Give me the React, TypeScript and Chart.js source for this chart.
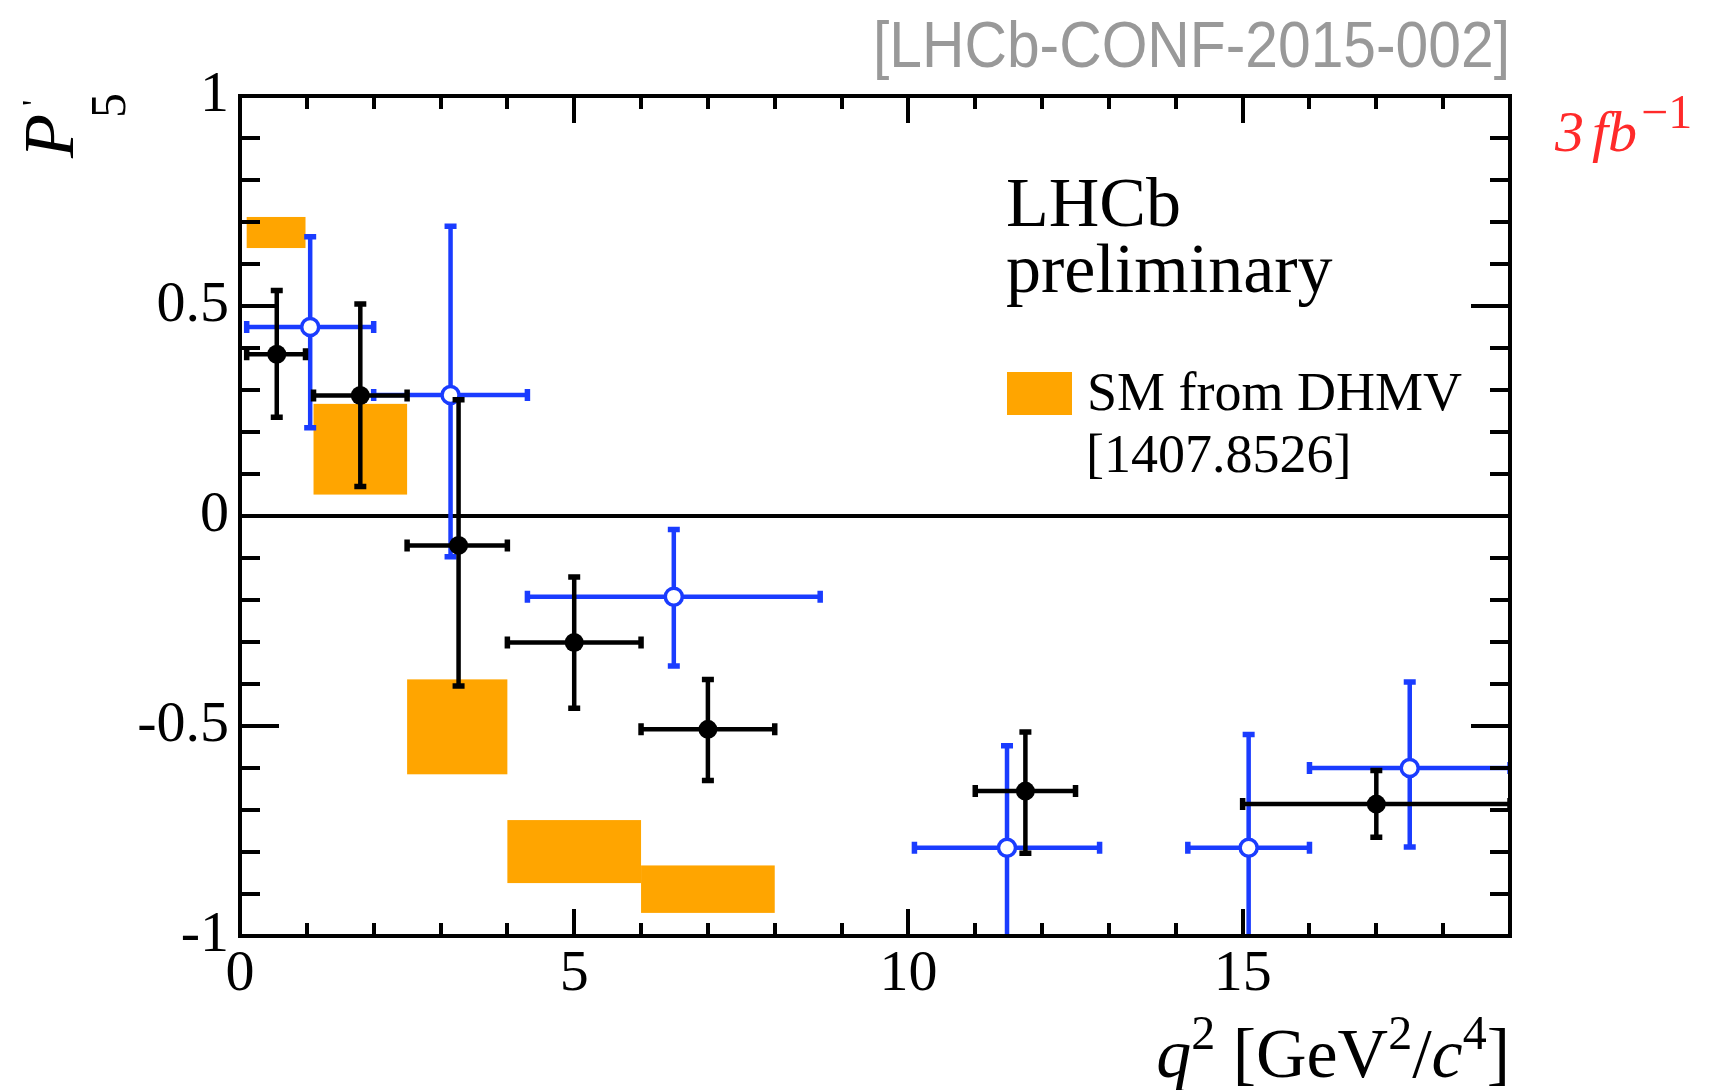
import React, { useEffect, useRef } from "react";
import { Chart, registerables } from "chart.js";

Chart.register(...registerables);

const SERIF = "'Liberation Serif', 'Times New Roman', serif";
const SANS = "'Liberation Sans', Arial, sans-serif";

const BLACK = "#000000";
const BLUE = "#1a3cff";
const ORANGE = "#ffa500";
const GREY = "#999999";
const RED = "#ff2a2a";

// axis ranges and tick structure
const xAxisMin = 0;
const xAxisMax = 19;
const yAxisMin = -1;
const yAxisMax = 1;
const xMajorTicks = [0, 5, 10, 15];
const yMajorTicks = [-1, -0.5, 0, 0.5, 1];
const xMinorStep = 1;
const yMinorStep = 0.1;
const xTickLabels = ["0", "5", "10", "15"];
const yTickLabels = ["-1", "-0.5", "0", "0.5", "1"];

// LHCb 3 fb^-1 (black, filled)
const lhcbBinLow = [0.1, 1.1, 2.5, 4.0, 6.0, 11.0, 15.0];
const lhcbBinHigh = [0.98, 2.5, 4.0, 6.0, 8.0, 12.5, 19.0];
const lhcbQ2 = [0.55, 1.8, 3.27, 5.0, 7.0, 11.75, 17.0];
const lhcbP5 = [0.385, 0.287, -0.07, -0.301, -0.508, -0.655, -0.686];
const lhcbP5Up = [0.537, 0.505, 0.277, -0.145, -0.389, -0.514, -0.606];
const lhcbP5Down = [0.235, 0.07, -0.405, -0.458, -0.63, -0.803, -0.765];

// LHCb 1 fb^-1 (blue, open)
const oldBinLow = [0.1, 2.0, 4.3, 10.09, 14.18, 16.0];
const oldBinHigh = [2.0, 4.3, 8.68, 12.86, 16.0, 19.0];
const oldQ2 = [1.05, 3.15, 6.49, 11.475, 15.09, 17.5];
const oldP5 = [0.45, 0.288, -0.192, -0.79, -0.79, -0.6];
const oldP5Up = [0.665, 0.69, -0.032, -0.547, -0.52, -0.395];
const oldP5Down = [0.21, -0.097, -0.357, -1.05, -1.05, -0.788];

// SM prediction from DHMV (orange boxes)
const smBinLow = [0.1, 1.1, 2.5, 4.0, 6.0];
const smBinHigh = [0.98, 2.5, 4.0, 6.0, 8.0];
const smUp = [0.712, 0.267, -0.389, -0.724, -0.832];
const smDown = [0.638, 0.051, -0.615, -0.874, -0.945];

const errorSets = [
  { lo: lhcbBinLow, hi: lhcbBinHigh, xs: lhcbQ2, ys: lhcbP5, up: lhcbP5Up, down: lhcbP5Down, color: BLACK },
  { lo: oldBinLow, hi: oldBinHigh, xs: oldQ2, ys: oldP5, up: oldP5Up, down: oldP5Down, color: BLUE },
];

function clipArea(ctx: CanvasRenderingContext2D, a: any) {
  ctx.beginPath();
  ctx.rect(a.left, a.top, a.right - a.left, a.bottom - a.top);
  ctx.clip();
}

type Part = { t: string; font: string; dy: number; gap?: number };

function partsWidth(ctx: CanvasRenderingContext2D, parts: Part[]) {
  let w = 0;
  for (const p of parts) {
    ctx.font = p.font;
    w += ctx.measureText(p.t).width + (p.gap ?? 0);
  }
  return w;
}

function drawParts(ctx: CanvasRenderingContext2D, parts: Part[], x: number, y: number) {
  let cx = x;
  for (const p of parts) {
    ctx.font = p.font;
    ctx.fillText(p.t, cx, y + p.dy);
    cx += ctx.measureText(p.t).width + (p.gap ?? 0);
  }
}

const rootPlugin = {
  id: "rootStyle",
  beforeDatasetsDraw(chart: any) {
    const { ctx, chartArea: a, scales } = chart;
    const x = scales.x;
    const y = scales.y;
    ctx.save();
    clipArea(ctx, a);
    ctx.fillStyle = ORANGE;
    for (let i = 0; i < smBinLow.length; i++) {
      const x0 = x.getPixelForValue(smBinLow[i]);
      const x1 = x.getPixelForValue(smBinHigh[i]);
      const y0 = y.getPixelForValue(smUp[i]);
      const y1 = y.getPixelForValue(smDown[i]);
      ctx.fillRect(x0, y0, x1 - x0, y1 - y0);
    }
    // zero line
    const yz = y.getPixelForValue(0);
    ctx.strokeStyle = BLACK;
    ctx.lineWidth = 4;
    ctx.beginPath();
    ctx.moveTo(a.left, yz);
    ctx.lineTo(a.right, yz);
    ctx.stroke();
    ctx.restore();
  },
  beforeDatasetDraw(chart: any, args: any) {
    const set = errorSets[args.index];
    if (!set) return;
    const { ctx, chartArea: a, scales } = chart;
    const x = scales.x;
    const y = scales.y;
    ctx.save();
    clipArea(ctx, a);
    ctx.strokeStyle = set.color;
    const cap = 6;
    for (let i = 0; i < set.xs.length; i++) {
      const px = x.getPixelForValue(set.xs[i]);
      const py = y.getPixelForValue(set.ys[i]);
      const pl = x.getPixelForValue(set.lo[i]);
      const pr = x.getPixelForValue(set.hi[i]);
      const pt = y.getPixelForValue(set.up[i]);
      const pb = y.getPixelForValue(set.down[i]);
      ctx.lineWidth = 4.5;
      ctx.beginPath();
      ctx.moveTo(pl, py);
      ctx.lineTo(pr, py);
      ctx.moveTo(px, pt);
      ctx.lineTo(px, pb);
      ctx.stroke();
      ctx.lineWidth = 5.5;
      ctx.beginPath();
      ctx.moveTo(pl, py - cap);
      ctx.lineTo(pl, py + cap);
      ctx.moveTo(pr, py - cap);
      ctx.lineTo(pr, py + cap);
      ctx.moveTo(px - cap, pt);
      ctx.lineTo(px + cap, pt);
      ctx.moveTo(px - cap, pb);
      ctx.lineTo(px + cap, pb);
      ctx.stroke();
    }
    ctx.restore();
  },
  afterDatasetsDraw(chart: any) {
    const { ctx, chartArea: a, scales } = chart;
    const x = scales.x;
    const y = scales.y;
    ctx.save();
    ctx.strokeStyle = BLACK;
    ctx.lineWidth = 4;
    ctx.lineCap = "butt";
    ctx.beginPath();
    // y ticks left & right
    for (let v = yAxisMin + yMinorStep; v < yAxisMax - 1e-6; v += yMinorStep) {
      const isMajor = yMajorTicks.some((m) => Math.abs(m - v) < 1e-6);
      const len = isMajor ? 39 : 20;
      const py = Math.round(y.getPixelForValue(v));
      ctx.moveTo(a.left, py);
      ctx.lineTo(a.left + len, py);
      ctx.moveTo(a.right, py);
      ctx.lineTo(a.right - len, py);
    }
    // x ticks bottom & top
    for (let v = xAxisMin + xMinorStep; v < xAxisMax - 1e-6; v += xMinorStep) {
      const isMajor = xMajorTicks.some((m) => Math.abs(m - v) < 1e-6);
      const len = isMajor ? 27 : 13;
      const px = Math.round(x.getPixelForValue(v));
      ctx.moveTo(px, a.bottom);
      ctx.lineTo(px, a.bottom - len);
      ctx.moveTo(px, a.top);
      ctx.lineTo(px, a.top + len);
    }
    ctx.stroke();
    // frame
    ctx.strokeRect(a.left, a.top, a.right - a.left, a.bottom - a.top);
    ctx.restore();
  },
  afterDraw(chart: any) {
    const { ctx, chartArea: a } = chart;
    ctx.save();
    ctx.textBaseline = "alphabetic";
    ctx.textAlign = "left";

    // header reference, fitted to the frame width
    const header = "[LHCb-CONF-2015-002]";
    ctx.font = `65px ${SANS}`;
    ctx.fillStyle = GREY;
    const hw = ctx.measureText(header).width;
    const target = a.right - 873;
    ctx.save();
    ctx.translate(a.right - target, 67);
    ctx.scale(target / hw, 1);
    ctx.fillText(header, 0, 0);
    ctx.restore();

    // luminosity
    ctx.fillStyle = RED;
    drawParts(
      ctx,
      [
        { t: "3", font: `italic 58px ${SERIF}`, dy: 0, gap: 8 },
        { t: "fb", font: `italic 58px ${SERIF}`, dy: 0, gap: 4 },
        { t: "\u22121", font: `48px ${SERIF}`, dy: -23 },
      ],
      1555,
      151
    );

    // LHCb preliminary
    ctx.fillStyle = BLACK;
    ctx.font = `70px ${SERIF}`;
    ctx.fillText("LHCb", 1006, 226);
    ctx.fillText("preliminary", 1006, 292);

    // legend
    ctx.fillStyle = ORANGE;
    ctx.fillRect(1007, 372, 65, 43);
    ctx.fillStyle = BLACK;
    ctx.font = `54px ${SERIF}`;
    ctx.fillText("SM from DHMV", 1087, 410);
    ctx.fillText("[1407.8526]", 1086, 472);

    // x title, right aligned to the frame
    const xt: Part[] = [
      { t: "q", font: `italic 70px ${SERIF}`, dy: 0 },
      { t: "2", font: `48px ${SERIF}`, dy: -28 },
      { t: " [GeV", font: `70px ${SERIF}`, dy: 0 },
      { t: "2", font: `48px ${SERIF}`, dy: -28 },
      { t: "/", font: `70px ${SERIF}`, dy: 0 },
      { t: "c", font: `italic 70px ${SERIF}`, dy: 0 },
      { t: "4", font: `48px ${SERIF}`, dy: -28 },
      { t: "]", font: `70px ${SERIF}`, dy: 0 },
    ];
    const xw = partsWidth(ctx, xt);
    drawParts(ctx, xt, a.right - xw, 1077);

    // y title, rotated
    ctx.save();
    ctx.translate(73, 158);
    ctx.rotate(-Math.PI / 2);
    ctx.font = `italic 72px ${SERIF}`;
    ctx.fillText("P", 0, 0);
    ctx.font = `34px ${SERIF}`;
    ctx.fillText("'", 52, -28);
    ctx.font = `50px ${SERIF}`;
    ctx.fillText("5", 40, 52);
    ctx.restore();

    ctx.restore();
  },
};

export default function App() {
  const ref = useRef<HTMLCanvasElement | null>(null);

  useEffect(() => {
    if (!ref.current) return;
    const chart = new Chart(ref.current, {
      type: "scatter",
      data: {
        datasets: [
          {
            label: "LHCb 3 fb-1",
            data: lhcbQ2.map((q, i) => ({ x: q, y: lhcbP5[i] })),
            pointRadius: 9.5,
            pointStyle: "circle",
            backgroundColor: BLACK,
            borderColor: BLACK,
            borderWidth: 0,
            clip: false,
          },
          {
            label: "LHCb 1 fb-1",
            data: oldQ2.map((q, i) => ({ x: q, y: oldP5[i] })),
            pointRadius: 8.5,
            pointStyle: "circle",
            backgroundColor: "#ffffff",
            borderColor: BLUE,
            borderWidth: 3.5,
            clip: false,
          },
        ],
      },
      options: {
        responsive: false,
        maintainAspectRatio: false,
        animation: false,
        devicePixelRatio: 1,
        layout: { padding: { left: 0, top: 96, right: 218, bottom: 0 } },
        plugins: {
          legend: { display: false },
          tooltip: { enabled: false },
          title: { display: false },
        },
        scales: {
          x: {
            type: "linear",
            min: xAxisMin,
            max: xAxisMax,
            grid: { display: false, drawTicks: false },
            border: { display: false },
            afterFit: (s: any) => {
              s.height = 154;
            },
            afterBuildTicks: (s: any) => {
              s.ticks = xMajorTicks.map((v) => ({ value: v }));
            },
            ticks: {
              autoSkip: false,
              maxRotation: 0,
              padding: 4,
              color: BLACK,
              font: { family: SERIF, size: 58 },
              callback: (v: any) => xTickLabels[xMajorTicks.indexOf(Number(v))] ?? "",
            },
          },
          y: {
            type: "linear",
            min: yAxisMin,
            max: yAxisMax,
            grid: { display: false, drawTicks: false },
            border: { display: false },
            afterFit: (s: any) => {
              s.width = 240;
            },
            afterBuildTicks: (s: any) => {
              s.ticks = yMajorTicks.map((v) => ({ value: v }));
            },
            ticks: {
              autoSkip: false,
              padding: 11,
              color: BLACK,
              font: { family: SERIF, size: 58 },
              callback: (v: any) => yTickLabels[yMajorTicks.indexOf(Number(v))] ?? "",
            },
          },
        },
      },
      plugins: [rootPlugin],
    } as any);
    return () => chart.destroy();
  }, []);

  return (
    <div style={{ position: "fixed", left: 0, top: 0, width: 1728, height: 1090, background: "#ffffff" }}>
      <canvas ref={ref} width={1728} height={1090} style={{ width: 1728, height: 1090, display: "block" }} />
    </div>
  );
}
